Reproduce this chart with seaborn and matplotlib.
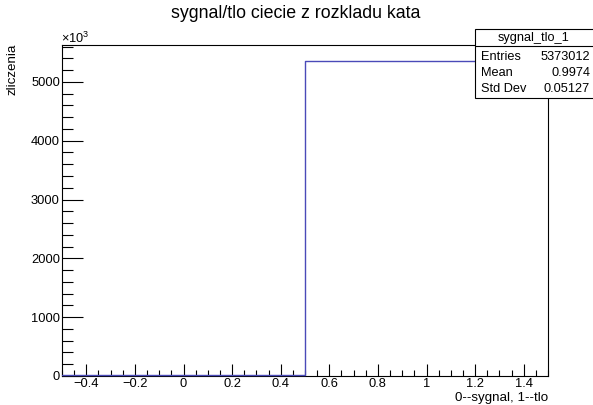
import numpy as np
import pandas as pd
import seaborn as sns
import matplotlib
matplotlib.use("Agg")
import matplotlib.pyplot as plt
from matplotlib.patches import Rectangle
from matplotlib.ticker import MultipleLocator, FuncFormatter

# Two-bin histogram: 0 = signal, 1 = background
bin_centers = [0, 1]
bin_counts = [14163, 5358849]
bin_edges = [-0.5, 0.5, 1.5]

hist_name = "sygnal_tlo_1"
stat_names = ["Entries", "Mean", "Std Dev"]
stat_values = ["5373012", "0.9974", "0.05127"]

title = "sygnal/tlo ciecie z rozkladu kata"
xlabel = "0--sygnal, 1--tlo"
ylabel = "zliczenia"

sns.set_style("white")
plt.rcParams["font.family"] = ["Liberation Sans", "DejaVu Sans"]
plt.rcParams["mathtext.fontset"] = "custom"
plt.rcParams["mathtext.rm"] = "Liberation Sans"
for key in ["text.color", "axes.labelcolor", "xtick.color", "ytick.color"]:
    plt.rcParams[key] = "black"

df = pd.DataFrame({"x": bin_centers, "w": bin_counts})

fig = plt.figure(figsize=(5.93, 4.05), dpi=100)
W, H = 593, 405
ax = fig.add_axes([62 / W, 1 - 376 / H, (548 - 62) / W, (376 - 45) / H])

sns.histplot(data=df, x="x", weights="w", bins=bin_edges, element="step",
             fill=False, color="#4a4ab8", linewidth=1.0, ax=ax)
for coll in ax.patches + ax.lines + ax.collections:
    coll.set_zorder(3)
    coll.set_clip_on(False)

ymax = max(bin_counts) * 1.05
ax.set_xlim(-0.5, 1.5)
ax.set_ylim(0, ymax)

for s in ax.spines.values():
    s.set_color("black")
    s.set_linewidth(0.8)

ax.xaxis.set_major_locator(MultipleLocator(0.2))
ax.xaxis.set_minor_locator(MultipleLocator(0.05))
ax.yaxis.set_major_locator(MultipleLocator(1000000))
ax.yaxis.set_minor_locator(MultipleLocator(200000))

def fmt_x(v, pos):
    if abs(v) < 1e-9:
        return "0"
    s = f"{v:.1f}"
    if s.endswith(".0"):
        s = s[:-2]
    return s.replace("-", "\u2212")

ax.xaxis.set_major_formatter(FuncFormatter(fmt_x))
ax.yaxis.set_major_formatter(FuncFormatter(lambda v, p: f"{v / 1000:.0f}"))

ax.tick_params(axis="x", which="major", direction="in", length=9, width=0.8,
               labelsize=9.3, pad=1.5, bottom=True, top=False)
ax.tick_params(axis="x", which="minor", direction="in", length=4.5, width=0.8,
               bottom=True, top=False)
ax.tick_params(axis="y", which="major", direction="in", length=15, width=0.8,
               labelsize=9.3, pad=1.5, left=True, right=False)
ax.tick_params(axis="y", which="minor", direction="in", length=8, width=0.8,
               left=True, right=False)

ax.set_xlabel("")
ax.set_ylabel("")

fig.text(296 / W, 1 - 13 / H, title, ha="center", va="center", fontsize=12.8)
fig.text(548 / W, 1 - 398.5 / H, xlabel, ha="right", va="center", fontsize=9.6)
fig.text(13 / W, 1 - 44 / H, ylabel, ha="center", va="top", rotation=90,
         fontsize=9.6)
fig.text(61 / W, 1 - 38 / H, r"$\times10^{3}$", ha="left", va="center",
         fontsize=9.2)

# statistics box
bx0, by0, bx1, by1 = 475, 29, 596, 98
fig.patches.append(Rectangle((bx0 / W, 1 - by1 / H), (bx1 - bx0) / W,
                             (by1 - by0) / H, transform=fig.transFigure,
                             facecolor="white", edgecolor="black",
                             linewidth=0.8, zorder=6))
fig.lines.append(plt.Line2D([bx0 / W, bx1 / W], [1 - 46 / H, 1 - 46 / H],
                            transform=fig.transFigure, color="black",
                            linewidth=0.8, zorder=7))
fig.text(534 / W, 1 - 37.5 / H, hist_name, ha="center",
         va="center", fontsize=9.2, zorder=8)
for i, (n, v) in enumerate(zip(stat_names, stat_values)):
    yy = 1 - (57 + 16 * i) / H
    fig.text((bx0 + 6) / W, yy, n, ha="left", va="center", fontsize=9.2,
             zorder=8)
    fig.text(590 / W, yy, v, ha="right", va="center", fontsize=9.2,
             zorder=8)

fig.savefig("out.png", dpi=100, facecolor="white")
